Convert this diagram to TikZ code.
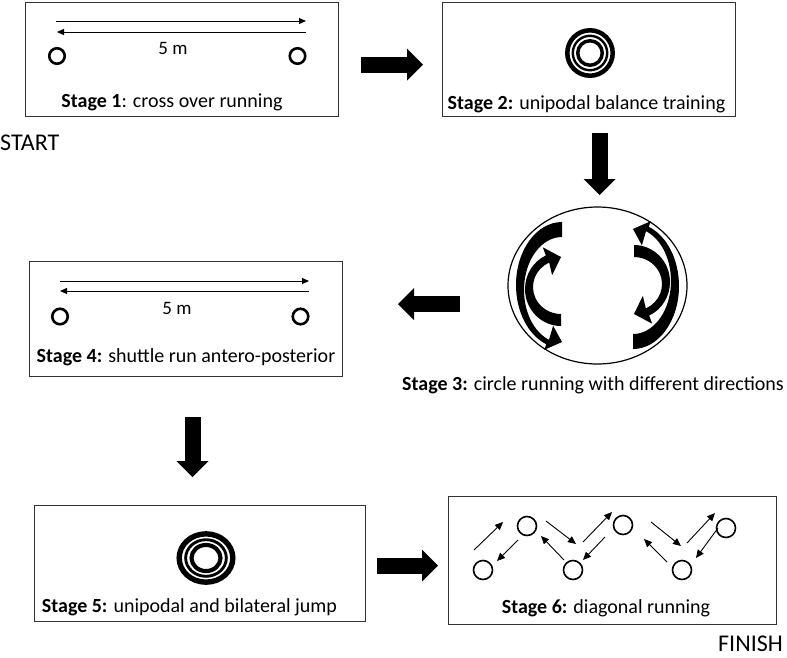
\documentclass[tikz,border=0pt]{standalone}
\usepackage{fontspec}
\setmainfont{Carlito}
\usetikzlibrary{arrows.meta,shapes.geometric}
\newcommand\circarrows{%
  % outer arrow: tail at top, head at bottom
  \begin{scope}[shift={(562,-285)}]
    \fill (90:46 and 63) arc[start angle=90,end angle=250,x radius=46,y radius=63]
      -- (250:52 and 69) -- ([shift={(0,-2)}]270:42 and 55)
      -- ([shift={(0,-5)}]250:26 and 38)
      -- ([shift={(0,-5)}]250:38 and 53) arc[start angle=250,end angle=90,x radius=38,y radius=53] -- cycle;
  \end{scope}
  % inner arrow: tail at bottom, head at top
  \begin{scope}[shift={(561,-289)}]
    \fill (270:36 and 37) arc[start angle=270,end angle=115,x radius=36,y radius=37]
      -- (115:43 and 46) -- ([shift={(0,1)}]90:31 and 31)
      -- ([shift={(0,2)}]115:21 and 13)
      -- ([shift={(0,2)}]115:28 and 27) arc[start angle=115,end angle=270,x radius=28,y radius=27] -- cycle;
  \end{scope}}
\tikzset{
  pics/ring/.style={code={
    \draw[line width=#1*4.3pt] (0,0) circle[radius=20.65];
    \draw[line width=#1*2.3pt] (0,0) circle[radius=15.65];
    \draw[line width=#1*3.3pt] (0,0) circle[radius=11.15];
  }}
}
\begin{document}
\begin{tikzpicture}[x=1pt,y=1pt,
  box/.style={draw=black!80, line width=1.3pt, inner sep=0pt, anchor=north west},
  lbl/.style={font=\fontsize{20}{24}\selectfont, inner sep=0pt},
  big/.style={font=\fontsize{24}{28}\selectfont, inner sep=0pt},
  dist/.style={font=\fontsize{19}{23}\selectfont, inner sep=0pt},
  cone/.style={draw, circle, line width=2.6pt, minimum size=15.5pt, inner sep=0pt},
  cone6/.style={draw, circle, line width=1.6pt, minimum size=19pt, inner sep=0pt},
  thinarr/.style={line width=1pt, -{Triangle[length=7pt,width=6pt]}},
  diagarr/.style={line width=0.9pt, -{Triangle[length=8pt,width=7pt]}},
  blk/.style={line width=16pt, -{Triangle[length=16pt,width=32pt,line width=0pt]}},
]
\useasboundingbox (0,0) rectangle (787,-657);

% ---------- boxes ----------
\node[box, minimum width=313pt, minimum height=114pt] (s1) at (25,-2) {};
\node[box, minimum width=293pt, minimum height=114pt] (s2) at (442,-2) {};
\node[draw, ellipse, line width=1.2pt, minimum width=179pt, minimum height=157pt, inner sep=0pt] (s3) at (597.5,-285.5) {};
\node[box, minimum width=313pt, minimum height=115pt] (s4) at (29,-261) {};
\node[box, minimum width=331pt, minimum height=116pt] (s5) at (34,-505) {};
\node[box, minimum width=328pt, minimum height=128pt] (s6) at (448,-496) {};

% ---------- labels ----------
\node[lbl] (t1) at (172,-102) {\textbf{Stage 1}: cross over running};
\node[lbl] (t2) at (586.5,-104) {\textbf{Stage 2:} unipodal balance training};
\node[lbl, anchor=west] (t3) at (402,-385) {\textbf{Stage 3:} circle running with different directions};
\node[lbl] (t4) at (186,-357) {\textbf{Stage 4:} shuttle run antero-posterior};
\node[lbl] (t5) at (189.5,-607) {\textbf{Stage 5:} unipodal and bilateral jump};
\node[lbl] (t6) at (606,-608) {\textbf{Stage 6:} diagonal running};
\node[big, anchor=west] (start) at (0,-143) {START};
\node[big, anchor=east] (finish) at (783,-644) {FINISH};

% ---------- stage 1 ----------
\node[cone] (c1a) at (57,-56) {};
\node[cone] (c1b) at (297.5,-56) {};
\node[dist] (d1) at (173,-48) {5 m};
\coordinate (p1a) at (56,-21);  \coordinate (p1b) at (306,-21);
\coordinate (p1c) at (306,-32); \coordinate (p1d) at (57,-32);
\draw[thinarr] (p1a) -- (p1b);
\draw[thinarr] (p1c) -- (p1d);

% ---------- stage 2 ----------
\pic (r2) [scale=1.1] at (590,-53) {ring=1.05};

% ---------- stage 3 ----------
\circarrows
\begin{scope}[rotate around={180:(597.5,-285.5)}]
  \circarrows
\end{scope}

% ---------- stage 4 ----------
\node[cone] (c4a) at (60,-316.5) {};
\node[cone] (c4b) at (300.5,-316.5) {};
\node[dist] (d4) at (177,-308) {5 m};
\coordinate (p4a) at (60,-281);  \coordinate (p4b) at (309,-281);
\coordinate (p4c) at (309,-291); \coordinate (p4d) at (60,-291);
\draw[thinarr] (p4a) -- (p4b);
\draw[thinarr] (p4c) -- (p4d);

% ---------- stage 5 ----------
\pic (r5) [xscale=1.3, yscale=1.17] at (206,-558) {ring=1.25};

% ---------- stage 6 ----------
\node[cone6] (b1) at (483,-570) {};
\node[cone6] (u1) at (527,-526) {};
\node[cone6] (b2) at (573,-570) {};
\node[cone6] (u2) at (623,-525) {};
\node[cone6] (b3) at (682,-570) {};
\node[cone6] (u3) at (726,-528) {};
\coordinate (q1s) at (474,-550);  \coordinate (q1e) at (503,-522);
\coordinate (q2s) at (518,-540);  \coordinate (q2e) at (497,-561);
\coordinate (q3s) at (546,-521);  \coordinate (q3e) at (576,-544);
\coordinate (q4s) at (564,-560);  \coordinate (q4e) at (541,-536);
\coordinate (q5s) at (583,-542);  \coordinate (q5e) at (612,-512);
\coordinate (q6s) at (605,-537);  \coordinate (q6e) at (583,-560);
\coordinate (q7s) at (651,-522);  \coordinate (q7e) at (681,-546);
\coordinate (q8s) at (667,-562);  \coordinate (q8e) at (644,-539);
\coordinate (q9s) at (687,-543);  \coordinate (q9e) at (715,-513);
\coordinate (q10s) at (718,-528); \coordinate (q10e) at (696,-558);
\foreach \i in {1,...,10} { \draw[diagarr] (q\i s) -- (q\i e); }

% ---------- block arrows between stages ----------
\coordinate (a12s) at (361,-64.5);   \coordinate (a12e) at (423,-64.5);
\coordinate (a23s) at (599.5,-133);  \coordinate (a23e) at (599.5,-195);
\coordinate (a34s) at (460,-304);    \coordinate (a34e) at (398,-304);
\coordinate (a45s) at (192.5,-417);  \coordinate (a45e) at (192.5,-477);
\coordinate (a56s) at (377,-565.5);  \coordinate (a56e) at (438,-565.5);
\draw[blk] (a12s) -- (a12e);
\draw[blk] (a23s) -- (a23e);
\draw[blk] (a34s) -- (a34e);
\draw[blk] (a45s) -- (a45e);
\draw[blk] (a56s) -- (a56e);
\end{tikzpicture}
\end{document}
